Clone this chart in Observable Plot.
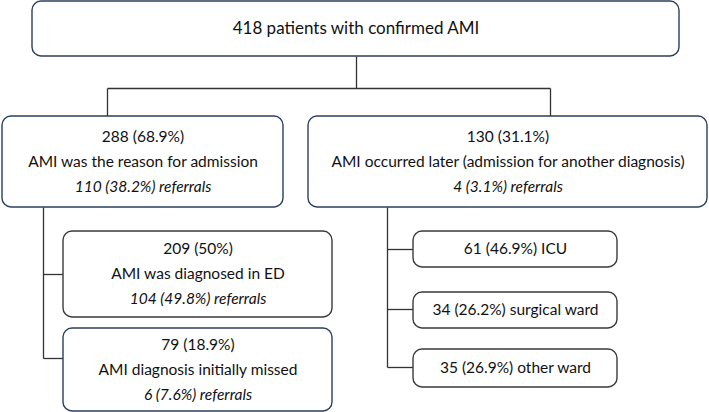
<!DOCTYPE html>
<html><head><meta charset="utf-8">
<script src="https://cdn.jsdelivr.net/npm/d3@7"></script>
<script src="https://cdn.jsdelivr.net/npm/@observablehq/plot@0.6"></script>
<style>body{margin:0;background:#fff}</style>
</head><body><div id="chart"></div>
<script>
// Node contents
const nodeIds = ["root","admit","later","ed","missed","icu","surg","other"];
const countLines = ["418 patients with confirmed AMI","288 (68.9%)","130 (31.1%)","209 (50%)","79 (18.9%)","61 (46.9%) ICU","34 (26.2%) surgical ward","35 (26.9%) other ward"];
const descLines = [null,"AMI was the reason for admission","AMI occurred later (admission for another diagnosis)","AMI was diagnosed in ED","AMI diagnosis initially missed",null,null,null];
const referralLines = [null,"110 (38.2%) referrals","4 (3.1%) referrals","104 (49.8%) referrals","6 (7.6%) referrals",null,null,null];
const borderGroup = ["navy","navy","navy","dark","navy","dark","dark","dark"];

// Layout (pixel space)
const boxX1 = [32, 2, 308, 63, 63, 413, 413, 413];
const boxX2 = [679, 283, 707, 332, 332, 617, 617, 617];
const boxY1 = [1, 116, 116, 231, 328, 231, 292, 349];
const boxY2 = [56, 207, 207, 317, 411, 267, 328, 387];
const fontSizes = [17, 15.5, 15.5, 15.5, 15.5, 15.5, 15.5, 15.5];

// Connector segments [x1,y1,x2,y2]
const segments = [
  [356,56,356,88],[107,88,550,88],[107,88,107,116],[550,88,550,116],
  [43,207,43,358],[43,274,63,274],[43,358,63,358],
  [387,207,387,367],[387,249,413,249],[387,309,413,309],[387,367,413,367]
];

const boxes = nodeIds.map((id,i)=>({id,x1:boxX1[i],x2:boxX2[i],y1:boxY1[i],y2:boxY2[i],g:borderGroup[i]}));
const texts = [];
nodeIds.forEach((id,i)=>{
  const cx=(boxX1[i]+boxX2[i])/2, cy=(boxY1[i]+boxY2[i])/2;
  const lines=[[countLines[i],false],[descLines[i],false],[referralLines[i],true]].filter(d=>d[0]);
  const n=lines.length, step=25;
  lines.forEach((l,k)=>texts.push({x:cx,y:cy+(k-(n-1)/2)*step,t:l[0],it:l[1],fs:fontSizes[i]}));
});
const segs = segments.map(s=>({x1:s[0],y1:s[1],x2:s[2],y2:s[3]}));
const colors={navy:"#2b3f5f",dark:"#3a3a3a"};

const chart = Plot.plot({
  width:709,height:412,margin:0,
  x:{domain:[0,709],range:[0,709],axis:null},
  y:{domain:[0,412],range:[0,412],axis:null},
  style:{fontFamily:"Lato, 'Open Sans', sans-serif",background:"#fff"},
  marks:[
    Plot.link(segs,{x1:"x1",y1:"y1",x2:"x2",y2:"y2",stroke:"#333",strokeWidth:1.3}),
    Plot.rect(boxes,{x1:"x1",x2:"x2",y1:"y1",y2:"y2",fill:"white",stroke:d=>colors[d.g],strokeWidth:1.4,rx:9}),
    Plot.text(texts.filter(d=>!d.it && d.fs>16),{x:"x",y:"y",text:"t",fontSize:17,fill:"#111"}),
    Plot.text(texts.filter(d=>!d.it && d.fs<=16),{x:"x",y:"y",text:"t",fontSize:15.5,fill:"#111"}),
    Plot.text(texts.filter(d=>d.it),{x:"x",y:"y",text:"t",fontSize:15.5,fill:"#111",fontStyle:"italic"})
  ]
});
document.getElementById("chart").append(chart);
</script></body></html>
